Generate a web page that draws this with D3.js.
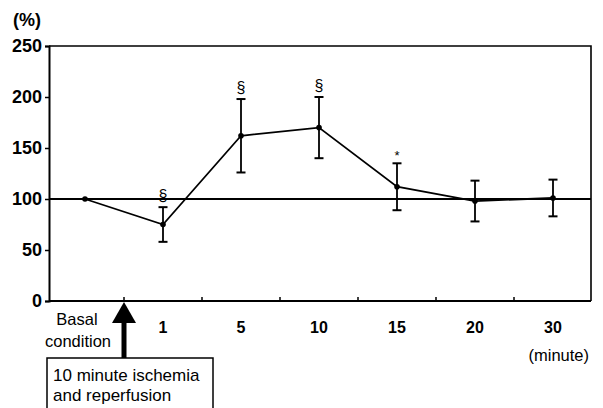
<!DOCTYPE html>
<html>
<head>
<meta charset="utf-8">
<script src="https://cdn.jsdelivr.net/npm/d3@7"></script>
<style>
  body { margin: 0; background: #fff; }
  svg { display: block; font-family: "Liberation Sans", Arial, sans-serif; }
</style>
</head>
<body>
<div id="vis"></div>
<script>
// Chart data
const categories = ['Basal', '1', '5', '10', '15', '20', '30'];
const means = [100, 75, 162, 170, 112, 98, 101];
const errors = [0, 17, 36, 30, 23, 20, 18];
const marks = ['', '§', '§', '§', '*', '', ''];
const yTicks = [0, 50, 100, 150, 200, 250];

const width = 603;
const height = 408;

const plot = { left: 49, right: 591, top: 46, bottom: 301 };

let svg = d3.select('#vis')
    .append('svg')
    .attr('width', width)
    .attr('height', height);

// Scales
let xScale = d3.scaleBand()
    .domain(categories)
    .range([46, 592])
    .padding(0);

let yScale = d3.scaleLinear()
    .domain([0, 250])
    .range([plot.bottom, plot.top]);

const cx = d => xScale(d) + xScale.bandwidth() / 2;

// Frame (top and right)
svg.append('path')
    .attr('d', `M${plot.left},${plot.top}H${plot.right}V${plot.bottom}`)
    .attr('fill', 'none')
    .attr('stroke', '#000')
    .attr('stroke-width', 1.6);

// Y axis
let yaxis = d3.axisLeft(yScale)
    .tickValues(yTicks)
    .tickSize(4)
    .tickPadding(3);

let gy = svg.append('g')
    .attr('transform', `translate(${plot.left},0)`)
    .call(yaxis);
gy.select('.domain').attr('stroke-width', 2);
gy.selectAll('.tick line').attr('stroke-width', 1.5);
gy.selectAll('.tick text')
    .attr('font-size', 18)
    .attr('font-weight', 'bold')
    .attr('font-family', '"Liberation Sans", Arial, sans-serif')
    .attr('fill', '#000');

// X axis line with ticks between categories
svg.append('line')
    .attr('x1', plot.left).attr('x2', plot.right)
    .attr('y1', plot.bottom).attr('y2', plot.bottom)
    .attr('stroke', '#000')
    .attr('stroke-width', 2);

svg.selectAll('.xtick')
    .data(categories.slice(1))
    .join('line')
    .attr('class', 'xtick')
    .attr('x1', d => xScale(d)).attr('x2', d => xScale(d))
    .attr('y1', plot.bottom).attr('y2', plot.bottom - 4)
    .attr('stroke', '#000')
    .attr('stroke-width', 1.5);

// X labels
svg.selectAll('.xlabel')
    .data(categories.slice(1))
    .join('text')
    .attr('class', 'xlabel')
    .attr('x', d => cx(d))
    .attr('y', 333)
    .attr('text-anchor', 'middle')
    .attr('font-size', 16)
    .attr('font-weight', 'bold')
    .text(d => d);

svg.append('text')
    .attr('x', cx(categories[0]) - 8)
    .attr('y', 325)
    .attr('text-anchor', 'middle')
    .attr('font-size', 16.5)
    .text('Basal');
svg.append('text')
    .attr('x', cx(categories[0]) - 7)
    .attr('y', 347)
    .attr('text-anchor', 'middle')
    .attr('font-size', 16.5)
    .text('condition');

svg.append('text')
    .attr('x', 589)
    .attr('y', 361)
    .attr('text-anchor', 'end')
    .attr('font-size', 16.5)
    .text('(minute)');

svg.append('text')
    .attr('x', 13)
    .attr('y', 26)
    .attr('font-size', 18)
    .attr('font-weight', 'bold')
    .text('(%)');

// Reference line at 100 %
svg.append('line')
    .attr('x1', plot.left).attr('x2', plot.right)
    .attr('y1', yScale(100)).attr('y2', yScale(100))
    .attr('stroke', '#000')
    .attr('stroke-width', 1.8);

const rows = categories.map((c, i) => ({ c: c, m: means[i], e: errors[i], s: marks[i] }));

// Error bars
let eb = svg.selectAll('.err')
    .data(rows.filter(d => d.e > 0))
    .join('g')
    .attr('class', 'err');
eb.append('line')
    .attr('x1', d => cx(d.c)).attr('x2', d => cx(d.c))
    .attr('y1', d => yScale(d.m + d.e)).attr('y2', d => yScale(d.m - d.e))
    .attr('stroke', '#000').attr('stroke-width', 1.8);
eb.selectAll('.cap')
    .data(d => [d.m + d.e, d.m - d.e].map(v => ({ c: d.c, v: v })))
    .join('line')
    .attr('class', 'cap')
    .attr('x1', d => cx(d.c) - 4.5).attr('x2', d => cx(d.c) + 4.5)
    .attr('y1', d => yScale(d.v)).attr('y2', d => yScale(d.v))
    .attr('stroke', '#000').attr('stroke-width', 2);

// Mean line
let line = d3.line()
    .x(d => cx(d.c))
    .y(d => yScale(d.m));

svg.append('path')
    .datum(rows)
    .attr('d', line)
    .attr('fill', 'none')
    .attr('stroke', '#000')
    .attr('stroke-width', 1.8);

svg.selectAll('.pt')
    .data(rows)
    .join('circle')
    .attr('class', 'pt')
    .attr('cx', d => cx(d.c))
    .attr('cy', d => yScale(d.m))
    .attr('r', 2.8)
    .attr('fill', '#000');

// Significance marks
svg.selectAll('.sig')
    .data(rows.filter(d => d.s))
    .join('text')
    .attr('class', 'sig')
    .attr('x', d => cx(d.c))
    .attr('y', d => yScale(d.m + d.e) - (d.s === '*' ? 3 : 6))
    .attr('text-anchor', 'middle')
    .attr('font-size', d => d.s === '*' ? 13 : 16)
    .text(d => d.s);

// Arrow marking ischemia and reperfusion
const ax = xScale(categories[1]);
svg.append('path')
    .attr('d', `M${ax},${plot.bottom + 1}L${ax + 12},${plot.bottom + 22}L${ax - 12},${plot.bottom + 22}Z`)
    .attr('fill', '#000');
svg.append('rect')
    .attr('x', ax - 2.5).attr('y', plot.bottom + 21)
    .attr('width', 5).attr('height', 37)
    .attr('fill', '#000');

svg.append('rect')
    .attr('x', 47).attr('y', 358)
    .attr('width', 166).attr('height', 60)
    .attr('fill', '#fff')
    .attr('stroke', '#000')
    .attr('stroke-width', 1.5);

svg.append('text')
    .attr('x', 53).attr('y', 381)
    .attr('font-size', 17)
    .text('10 minute ischemia');
svg.append('text')
    .attr('x', 53).attr('y', 401)
    .attr('font-size', 17)
    .text('and reperfusion');
</script>
</body>
</html>
